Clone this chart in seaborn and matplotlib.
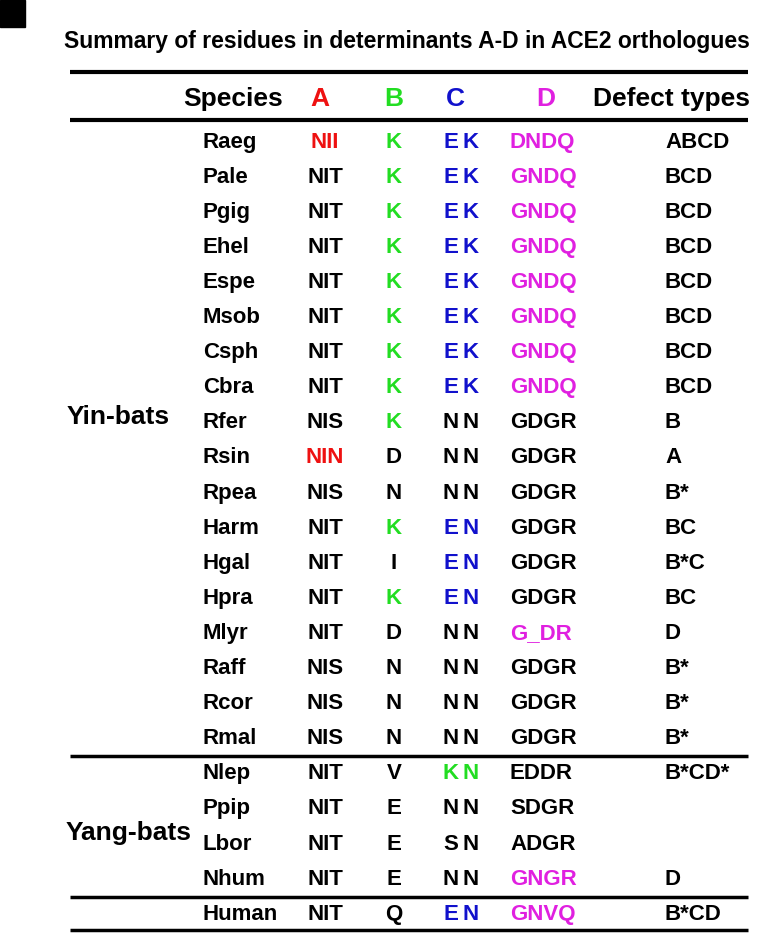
import matplotlib
matplotlib.use("Agg")
import matplotlib.pyplot as plt
import seaborn as sns

sns.set_theme(style="white", font="Liberation Sans", rc={"text.color": "black"})

species = ["Raeg", "Pale", "Pgig", "Ehel", "Espe", "Msob", "Csph", "Cbra", "Rfer", "Rsin",
           "Rpea", "Harm", "Hgal", "Hpra", "Mlyr", "Raff", "Rcor", "Rmal", "Nlep", "Ppip",
           "Lbor", "Nhum", "Human"]
col_a = ["NII", "NIT", "NIT", "NIT", "NIT", "NIT", "NIT", "NIT", "NIS", "NIN", "NIS", "NIT",
         "NIT", "NIT", "NIT", "NIS", "NIS", "NIS", "NIT", "NIT", "NIT", "NIT", "NIT"]
col_b = ["K", "K", "K", "K", "K", "K", "K", "K", "K", "D", "N", "K", "I", "K", "D", "N", "N",
         "N", "V", "E", "E", "E", "Q"]
col_c = ["EK", "EK", "EK", "EK", "EK", "EK", "EK", "EK", "NN", "NN", "NN", "EN", "EN", "EN",
         "NN", "NN", "NN", "NN", "KN", "NN", "SN", "NN", "EN"]
col_d = ["DNDQ", "GNDQ", "GNDQ", "GNDQ", "GNDQ", "GNDQ", "GNDQ", "GNDQ", "GDGR", "GDGR",
         "GDGR", "GDGR", "GDGR", "GDGR", "G_DR", "GDGR", "GDGR", "GDGR", "EDDR", "SDGR",
         "ADGR", "GNGR", "GNVQ"]
defects = ["ABCD", "BCD", "BCD", "BCD", "BCD", "BCD", "BCD", "BCD", "B", "A", "B*", "BC",
           "B*C", "BC", "D", "B*", "B*", "B*", "B*CD*", "", "", "D", "B*CD"]
# colour codes per cell: k=black, r=red, g=green, b=blue, m=magenta
a_col = "rkkkkkkkkrkkkkkkkkkkkkk"
b_col = "gggggggggkkgkgkkkkkkkkk"
c_col = ["bb"] * 8 + ["kk"] * 3 + ["bb"] * 3 + ["kk"] * 4 + ["gg", "kk", "kk", "kk", "bb"]
d_col = "mmmmmmmmkkkkkkmkkkkkkmm"
palette = {"k": "black", "r": "#ee1111", "g": "#22dd22", "b": "#1111cc", "m": "#e020e0"}

fig = plt.figure(figsize=(7.84, 9.41), dpi=100)
ax = fig.add_axes([0, 0, 1, 1])
ax.set_xlim(0, 784)
ax.set_ylim(941, 0)
ax.axis("off")

fs = 16
ax.add_patch(plt.Rectangle((0, 0), 25, 27, color="black"))
ax.text(407, 41, "Summary of residues in determinants A-D in ACE2 orthologues",
        ha="center", va="center", fontsize=16.5, fontweight="bold")
for y, w in [(72, 3), (120, 3), (756, 2.5), (897, 2.5), (930, 2.5)]:
    ax.plot([70, 748], [y, y], color="black", lw=w, solid_capstyle="butt")

ax.text(183, 99, "Species", ha="left", va="center", fontsize=19, fontweight="bold")
for x, t, c in [(320, "A", "r"), (394, "B", "g"), (455, "C", "b"), (546, "D", "m")]:
    ax.text(x, 99, t, ha="center", va="center", fontsize=19, fontweight="bold", color=palette[c])
ax.text(593, 99, "Defect types", ha="left", va="center", fontsize=19, fontweight="bold")

for i, sp in enumerate(species):
    y = 142 + i * 35.1
    ax.text(203, y, sp, ha="left", va="center", fontsize=fs, fontweight="bold")
    ax.text(325, y, col_a[i], ha="center", va="center", fontsize=fs, fontweight="bold",
            color=palette[a_col[i]])
    ax.text(394, y, col_b[i], ha="center", va="center", fontsize=fs, fontweight="bold",
            color=palette[b_col[i]])
    for j, x in enumerate([451, 471]):
        ax.text(x, y, col_c[i][j], ha="center", va="center", fontsize=fs, fontweight="bold",
                color=palette[c_col[i][j]])
    ax.text(510, y, col_d[i], ha="left", va="center", fontsize=fs, fontweight="bold",
            color=palette[d_col[i]])
    ax.text(665, y, defects[i], ha="left", va="center", fontsize=fs, fontweight="bold")

ax.text(67, 417, "Yin-bats", ha="left", va="center", fontsize=19, fontweight="bold")
ax.text(66, 833, "Yang-bats", ha="left", va="center", fontsize=19, fontweight="bold")

fig.savefig("out.png", dpi=100)
